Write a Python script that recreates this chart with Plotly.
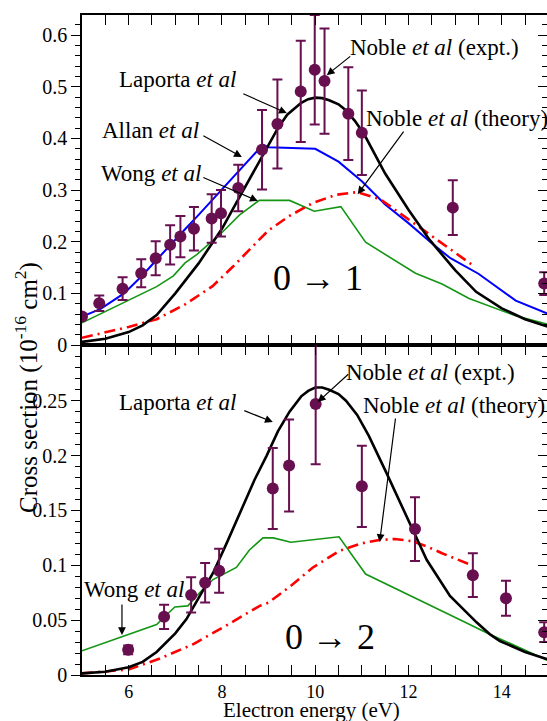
import plotly.graph_objects as go

# ---------------- data: 0 -> 1 (top panel) ----------------
expt1_x = [5.00, 5.37, 5.87, 6.27, 6.58, 6.89, 7.11, 7.40, 7.78, 7.98, 8.35, 8.86, 9.19, 9.69, 9.99, 10.20, 10.71, 11.00, 12.95, 14.91]
expt1_y = [0.055, 0.081, 0.109, 0.139, 0.168, 0.194, 0.210, 0.225, 0.245, 0.255, 0.304, 0.378, 0.428, 0.491, 0.533, 0.511, 0.448, 0.411, 0.266, 0.119]
expt1_err = [0.004, 0.015, 0.022, 0.027, 0.033, 0.038, 0.040, 0.042, 0.047, 0.045, 0.045, 0.077, 0.086, 0.098, 0.106, 0.102, 0.090, 0.082, 0.053, 0.022]

laporta1_x = [5.0, 5.5, 6.0, 6.3, 6.6, 7.0, 7.5, 8.0, 8.4, 8.9, 9.2, 9.4, 9.7, 9.85, 10.0, 10.15, 10.3, 10.5, 10.65, 10.85, 11.05, 11.5, 12.0, 12.45, 13.0, 13.45, 14.0, 14.5, 15.0]
laporta1_y = [0.006, 0.012, 0.025, 0.038, 0.058, 0.100, 0.158, 0.225, 0.290, 0.372, 0.420, 0.446, 0.469, 0.476, 0.479, 0.478, 0.474, 0.466, 0.455, 0.434, 0.408, 0.332, 0.262, 0.204, 0.145, 0.103, 0.071, 0.050, 0.035]

allan1_x = [5.0, 5.4, 5.9, 6.3, 6.6, 6.9, 7.25, 7.5, 7.8, 8.1, 8.4, 8.88, 9.0, 9.5, 10.0, 10.5, 11.0, 11.5, 12.0, 12.5, 12.9, 13.5, 14.3, 15.0]
allan1_y = [0.055, 0.070, 0.100, 0.135, 0.165, 0.195, 0.228, 0.252, 0.282, 0.310, 0.342, 0.388, 0.383, 0.382, 0.380, 0.355, 0.317, 0.272, 0.236, 0.197, 0.168, 0.138, 0.086, 0.060]

wong1_x = [5.0, 6.6, 6.96, 7.21, 7.46, 7.97, 8.38, 8.8, 9.45, 9.98, 10.55, 11.08, 12.15, 12.72, 13.3, 14.28, 15.0]
wong1_y = [0.043, 0.113, 0.134, 0.159, 0.175, 0.215, 0.252, 0.280, 0.280, 0.259, 0.268, 0.199, 0.139, 0.118, 0.090, 0.057, 0.040]

theory1_x = [5.0, 5.5, 6.0, 6.6, 7.2, 7.8, 8.25, 8.8, 9.0, 9.45, 9.95, 10.45, 10.9, 11.4, 12.0, 12.6, 13.0, 13.4]
theory1_y = [0.014, 0.024, 0.035, 0.050, 0.078, 0.114, 0.153, 0.204, 0.222, 0.250, 0.275, 0.291, 0.296, 0.282, 0.243, 0.205, 0.178, 0.153]

# ---------------- data: 0 -> 2 (bottom panel) ----------------
expt2_x = [5.99, 6.76, 7.34, 7.64, 7.94, 9.09, 9.44, 10.01, 11.00, 12.14, 13.38, 14.09, 14.91]
expt2_y = [0.023, 0.053, 0.073, 0.084, 0.095, 0.170, 0.191, 0.247, 0.172, 0.133, 0.091, 0.070, 0.039]
expt2_err = [0.004, 0.011, 0.016, 0.018, 0.020, 0.037, 0.042, 0.055, 0.037, 0.029, 0.020, 0.016, 0.009]

laporta2_x = [5.0, 5.5, 6.0, 6.3, 6.6, 7.0, 7.24, 7.5, 7.81, 8.1, 8.38, 8.7, 8.96, 9.2, 9.45, 9.7, 9.85, 10.0, 10.15, 10.3, 10.5, 10.66, 10.9, 11.15, 11.53, 12.14, 12.39, 12.89, 13.46, 13.75, 13.96, 14.5, 15.0]
laporta2_y = [0.0015, 0.003, 0.007, 0.012, 0.021, 0.038, 0.051, 0.070, 0.093, 0.120, 0.147, 0.178, 0.200, 0.222, 0.240, 0.254, 0.259, 0.262, 0.262, 0.260, 0.256, 0.250, 0.237, 0.218, 0.184, 0.128, 0.105, 0.072, 0.048, 0.037, 0.031, 0.021, 0.014]

wong2_x = [5.0, 6.6, 6.99, 7.27, 7.52, 7.81, 8.31, 8.59, 8.88, 9.1, 9.48, 10.08, 10.51, 11.08, 11.82, 13.17, 13.75, 15.0]
wong2_y = [0.022, 0.046, 0.062, 0.063, 0.075, 0.087, 0.098, 0.114, 0.125, 0.125, 0.121, 0.124, 0.126, 0.092, 0.077, 0.049, 0.037, 0.013]

theory2_x = [5.0, 5.5, 6.0, 6.67, 7.38, 8.09, 8.81, 9.0, 9.5, 9.95, 10.51, 11.0, 11.37, 11.7, 12.08, 12.4, 12.72, 13.3]
theory2_y = [0.0015, 0.003, 0.005, 0.015, 0.028, 0.045, 0.063, 0.066, 0.082, 0.098, 0.113, 0.120, 0.123, 0.124, 0.122, 0.117, 0.111, 0.101]

# ---------------- axis ticks ----------------
x_range = [5, 14.97]
top_range = [0, 0.639]
bot_range = [0, 0.3008]
top_tickvals = [0, 0.1, 0.2, 0.3, 0.4, 0.5, 0.6]
top_ticktext = ["0", "0.1", "0.2", "0.3", "0.4", "0.5", "0.6"]
bot_tickvals = [0, 0.05, 0.1, 0.15, 0.2, 0.25]
bot_ticktext = ["0", "0.05", "0.1", "0.15", "0.2", "0.25"]

# ---------------- labels ----------------
ET = "<i>et al</i>"
labels_top = [
    ("Laporta " + ET, 7.056, 0.515),
    ("Allan " + ET, 6.478, 0.416),
    ("Wong " + ET, 6.478, 0.333),
    ("Noble " + ET + " (expt.)", 12.56, 0.577),
    ("Noble " + ET + " (theory)", 13.035, 0.439),
]
arrows_top = [  # head x, head y, tail offset px
    (9.391, 0.449, -45, -20),
    (8.427, 0.364, -40, -22),
    (8.770, 0.279, -56, -24),
    (10.247, 0.5225, 25, -20),
    (10.911, 0.292, 47, -64),
]
labels_bot = [
    ("Laporta " + ET, 7.056, 0.248),
    ("Wong " + ET, 6.114, 0.0775),
    ("Noble " + ET + " (expt.)", 12.475, 0.2753),
    ("Noble " + ET + " (theory)", 12.97, 0.246),
]
arrows_bot = [
    (9.091, 0.2306, -30, -12),
    (5.857, 0.0365, 0, -32),
    (10.055, 0.2489, 32, -29),
    (11.382, 0.1212, 16, -125),
]

FONT = "Liberation Serif"
C_EXPT = "#670f4f"
C_BLUE = "#0000ff"
C_GREEN = "#149614"
C_RED = "#ff0000"
C_BLACK = "#000000"

fig = go.Figure()


def add_lines(xa, ya, wx, wy, tx, ty, lx, ly, ax=None, ay=None):
    fig.add_trace(go.Scatter(x=wx, y=wy, mode="lines", line=dict(color=C_GREEN, width=1.6),
                             xaxis=xa, yaxis=ya, showlegend=False, hoverinfo="skip"))
    if ax is not None:
        fig.add_trace(go.Scatter(x=ax, y=ay, mode="lines", line=dict(color=C_BLUE, width=2),
                                 xaxis=xa, yaxis=ya, showlegend=False, hoverinfo="skip"))
    fig.add_trace(go.Scatter(x=tx, y=ty, mode="lines",
                             line=dict(color=C_RED, width=2.6, dash="11px,5px,2px,5px"),
                             xaxis=xa, yaxis=ya, showlegend=False, hoverinfo="skip"))
    fig.add_trace(go.Scatter(x=lx, y=ly, mode="lines",
                             line=dict(color=C_BLACK, width=2.6),
                             xaxis=xa, yaxis=ya, showlegend=False, hoverinfo="skip"))


add_lines("x", "y", wong1_x, wong1_y, theory1_x, theory1_y, laporta1_x, laporta1_y, allan1_x, allan1_y)
add_lines("x2", "y2", wong2_x, wong2_y, theory2_x, theory2_y, laporta2_x, laporta2_y)

for xs, ys, es, xa, ya in [(expt1_x, expt1_y, expt1_err, "x", "y"), (expt2_x, expt2_y, expt2_err, "x2", "y2")]:
    fig.add_trace(go.Scatter(
        x=xs, y=ys, mode="markers", xaxis=xa, yaxis=ya,
        marker=dict(color=C_EXPT, size=12),
        error_y=dict(type="data", array=es, visible=True, color=C_EXPT, thickness=2, width=5),
        showlegend=False, hoverinfo="skip", cliponaxis=True))

# dummy traces for right-hand tick axes
fig.add_trace(go.Scatter(x=[], y=[], xaxis="x", yaxis="y3", showlegend=False, hoverinfo="skip"))
fig.add_trace(go.Scatter(x=[], y=[], xaxis="x2", yaxis="y4", showlegend=False, hoverinfo="skip"))

xcommon = dict(range=x_range, ticks="inside", ticklen=10, tickwidth=1.2, tickcolor="black",
               tickmode="linear", tick0=0, dtick=2,
               minor=dict(dtick=0.5, tick0=0, ticklen=5, tickwidth=1.2, tickcolor="black", ticks="inside"),
               showline=True, linecolor="black", linewidth=1.5, mirror="allticks",
               showgrid=False, zeroline=False, ticklabelstandoff=0,
               tickfont=dict(family=FONT, size=18, color="black"))

ycommon = dict(tickmode="array", ticks="outside", ticklen=9, tickwidth=1.2, tickcolor="black",
               showline=True, linecolor="black", linewidth=1.5, mirror=False,
               showgrid=False, zeroline=False,
               tickfont=dict(family=FONT, size=20, color="black"))

fig.update_layout(
    width=547, height=721,
    margin=dict(l=82, r=0, t=15, b=46, pad=0),
    paper_bgcolor="white", plot_bgcolor="white",
    xaxis=dict(**xcommon, anchor="y", showticklabels=False),
    xaxis2=dict(**xcommon, anchor="y2", showticklabels=True),
    yaxis=dict(**ycommon, domain=[0.5, 1], range=top_range, anchor="x",
               tickvals=top_tickvals, ticktext=top_ticktext,
               minor=dict(dtick=0.02, tick0=0, ticklen=5, tickwidth=1.2, tickcolor="black", ticks="outside")),
    yaxis2=dict(**ycommon, domain=[0, 0.5], range=bot_range, anchor="x2",
                tickvals=bot_tickvals, ticktext=bot_ticktext,
                minor=dict(dtick=0.01, tick0=0, ticklen=5, tickwidth=1.2, tickcolor="black", ticks="outside")),
    yaxis3=dict(overlaying="y", side="right", anchor="x", range=top_range,
                tickmode="linear", tick0=0, dtick=0.1, ticks="inside", ticklen=9, tickwidth=1.2, tickcolor="black",
                minor=dict(dtick=0.02, tick0=0, ticklen=5, tickwidth=1.2, tickcolor="black", ticks="inside"),
                showticklabels=False, showline=False, showgrid=False, zeroline=False),
    yaxis4=dict(overlaying="y2", side="right", anchor="x2", range=bot_range,
                tickmode="linear", tick0=0, dtick=0.05, ticks="inside", ticklen=9, tickwidth=1.2, tickcolor="black",
                minor=dict(dtick=0.01, tick0=0, ticklen=5, tickwidth=1.2, tickcolor="black", ticks="inside"),
                showticklabels=False, showline=False, showgrid=False, zeroline=False),
)

ann = []
for (txt, x, y) in labels_top:
    ann.append(dict(text=txt, x=x, y=y, xref="x", yref="y", showarrow=False,
                    xanchor="center", yanchor="middle", font=dict(family=FONT, size=23, color="black")))
for (hx, hy, ox, oy) in arrows_top:
    ann.append(dict(text="", x=hx, y=hy, xref="x", yref="y", ax=ox, ay=oy, showarrow=True,
                    arrowhead=2, arrowsize=1.3, arrowwidth=1.2, arrowcolor="black", standoff=0))
for (txt, x, y) in labels_bot:
    ann.append(dict(text=txt, x=x, y=y, xref="x2", yref="y2", showarrow=False,
                    xanchor="center", yanchor="middle", font=dict(family=FONT, size=23, color="black")))
for (hx, hy, ox, oy) in arrows_bot:
    ann.append(dict(text="", x=hx, y=hy, xref="x2", yref="y2", ax=ox, ay=oy, showarrow=True,
                    arrowhead=2, arrowsize=1.3, arrowwidth=1.2, arrowcolor="black", standoff=0))

ann.append(dict(text="0 → 1", x=10.055, y=0.130, xref="x", yref="y", showarrow=False,
                xanchor="center", yanchor="middle", font=dict(family=FONT, size=36, color="black")))
ann.append(dict(text="0 → 2", x=10.31, y=0.0346, xref="x2", yref="y2", showarrow=False,
                xanchor="center", yanchor="middle", font=dict(family=FONT, size=36, color="black")))

ann.append(dict(text="Cross section (10<sup>-16</sup> cm<sup>2</sup>)", x=0, y=0.435, xref="paper", yref="paper",
                xshift=-55, textangle=-90, showarrow=False, xanchor="center", yanchor="middle",
                font=dict(family=FONT, size=25, color="black")))
ann.append(dict(text="Electron energy (eV)", x=0.4925, y=-0.053, xref="paper", yref="paper",
                showarrow=False, xanchor="center", yanchor="middle",
                font=dict(family=FONT, size=21, color="black")))

fig.update_layout(annotations=ann)

fig.write_html("out.html")
